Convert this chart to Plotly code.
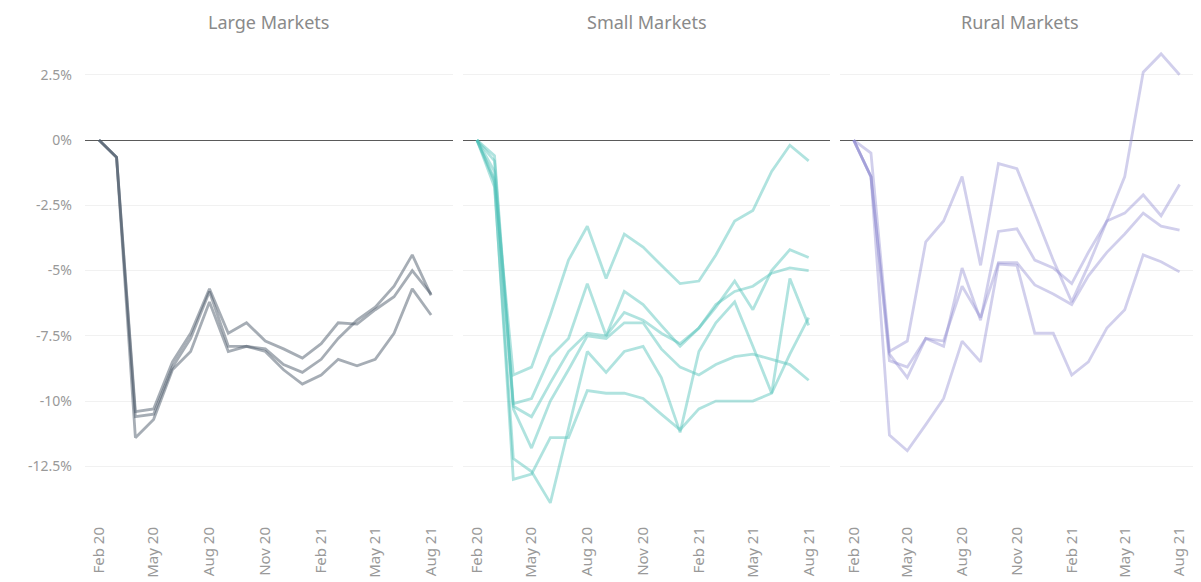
import plotly.graph_objects as go
from plotly.subplots import make_subplots

# months from Feb 20 to Aug 21
months = ["2020-02-01", "2020-03-01", "2020-04-01", "2020-05-01", "2020-06-01",
          "2020-07-01", "2020-08-01", "2020-09-01", "2020-10-01", "2020-11-01",
          "2020-12-01", "2021-01-01", "2021-02-01", "2021-03-01", "2021-04-01",
          "2021-05-01", "2021-06-01", "2021-07-01", "2021-08-01"]

# % change
large_a = [0, -0.66, -10.4, -10.3, -8.5, -7.4, -5.7, -7.4, -7.0, -7.7, -8.0, -8.35, -7.8, -7.0, -7.05, -6.5, -6.0, -5.0, -5.9]
large_b = [0, -0.66, -10.6, -10.5, -8.7, -7.6, -5.8, -7.9, -7.9, -8.0, -8.6, -8.9, -8.4, -7.6, -6.9, -6.4, -5.6, -4.4, -5.95]
large_c = [0, -0.66, -11.4, -10.7, -8.8, -8.1, -6.2, -8.1, -7.9, -8.1, -8.8, -9.35, -9.0, -8.4, -8.65, -8.4, -7.4, -5.7, -6.7]

small_a = [0, -1.5, -9.0, -8.7, -6.7, -4.6, -3.3, -5.3, -3.6, -4.1, -4.8, -5.5, -5.4, -4.4, -3.1, -2.7, -1.2, -0.2, -0.8]
small_b = [0, -0.6, -10.1, -9.9, -8.3, -7.6, -5.5, -7.5, -5.8, -6.3, -7.1, -7.9, -7.2, -6.4, -5.4, -6.5, -5.0, -4.2, -4.5]
small_c = [0, -1.2, -10.2, -10.6, -9.3, -8.1, -7.4, -7.5, -6.6, -6.9, -7.4, -7.8, -7.2, -6.3, -5.8, -5.6, -5.1, -4.9, -5.0]
small_d = [0, -0.8, -10.3, -11.8, -10.0, -8.8, -7.5, -7.6, -7.0, -7.0, -8.0, -8.7, -9.0, -8.6, -8.3, -8.2, -8.4, -8.6, -9.2]
small_e = [0, -1.8, -12.2, -12.7, -13.9, -11.0, -8.1, -8.9, -8.1, -7.9, -9.1, -11.2, -8.1, -7.0, -6.2, -7.9, -9.7, -5.3, -7.1]
small_f = [0, -1.6, -13.0, -12.8, -11.4, -11.4, -9.6, -9.7, -9.7, -9.9, -10.5, -11.1, -10.3, -10.0, -10.0, -10.0, -9.7, -8.2, -6.8]

rural_a = [0, -0.5, -8.1, -7.7, -3.9, -3.1, -1.4, -4.8, -0.9, -1.1, -2.8, -4.6, -6.2, -4.8, -3.1, -1.4, 2.6, 3.3, 2.5]
rural_b = [0, -1.4, -8.2, -9.1, -7.6, -7.9, -4.9, -6.9, -3.5, -3.4, -4.6, -4.9, -5.5, -4.3, -3.1, -2.8, -2.1, -2.9, -1.7]
rural_c = [0, -1.4, -8.45, -8.7, -7.6, -7.7, -5.6, -6.8, -4.7, -4.7, -5.55, -5.9, -6.3, -5.2, -4.3, -3.6, -2.8, -3.3, -3.45]
rural_d = [0, -1.4, -11.3, -11.9, -10.9, -9.9, -7.7, -8.5, -4.75, -4.8, -7.4, -7.4, -9.0, -8.5, -7.2, -6.5, -4.4, -4.66, -5.05]

panel_titles = ["Large Markets", "Small Markets", "Rural Markets"]
y_ticks = [2.5, 0, -2.5, -5, -7.5, -10, -12.5]
y_labels = ["2.5%", "0%", "-2.5%", "-5%", "-7.5%", "-10%", "-12.5%"]
x_ticks = ["2020-02-01", "2020-05-01", "2020-08-01", "2020-11-01",
           "2021-02-01", "2021-05-01", "2021-08-01"]

panels = [
    ([large_a, large_b, large_c], "rgba(78,92,108,0.5)"),
    ([small_a, small_b, small_c, small_d, small_e, small_f], "rgba(80,192,184,0.45)"),
    ([rural_a, rural_b, rural_c, rural_d], "rgba(140,136,208,0.4)"),
]

fig = make_subplots(rows=1, cols=3, shared_yaxes=True)

for col, (series, color) in enumerate(panels, start=1):
    for s in series:
        fig.add_trace(go.Scatter(
            x=months, y=s, mode="lines",
            line=dict(color=color, width=2.8),
            showlegend=False, hoverinfo="x+y",
        ), row=1, col=col)

font_name = "Noto Sans"
x_tick_font = dict(family=font_name, size=15, color="#999999")
y_tick_font = dict(family=font_name, size=14, color="#999999")

domains = [[0, 0.3297], [0.3387, 0.668], [0.6765, 1.0]]
for i in range(3):
    key = "xaxis" if i == 0 else "xaxis%d" % (i + 1)
    fig.layout[key].update(
        domain=domains[i],
        range=["2020-01-09", "2021-09-06"],
        tickvals=x_ticks, tickformat="%b %y", tickangle=-90,
        tickfont=x_tick_font, showgrid=False, zeroline=False,
        showline=False, ticks="",
    )
    fig.add_annotation(
        text=panel_titles[i], xref="paper", yref="paper",
        x=sum(domains[i]) / 2, y=1.0, yanchor="middle", xanchor="center",
        yshift=28, showarrow=False,
        font=dict(family=font_name, size=18, color="#8a8a8a"),
    )

fig.update_yaxes(
    range=[-14.67, 3.45], tickvals=y_ticks, ticktext=y_labels,
    tickfont=y_tick_font, showgrid=True, gridcolor="#f1f1f1", gridwidth=1,
    zeroline=True, zerolinecolor="#5a5a5a", zerolinewidth=1.2,
    showline=False, ticks="", ticklabelstandoff=12,
)
fig.update_yaxes(showticklabels=False, col=2)
fig.update_yaxes(showticklabels=False, col=3)

fig.update_layout(
    width=1201, height=582,
    margin=dict(l=77, r=8, t=42, b=67, autoexpand=False),
    plot_bgcolor="white", paper_bgcolor="white",
    font=dict(family=font_name),
)

fig.write_html("out.html")
